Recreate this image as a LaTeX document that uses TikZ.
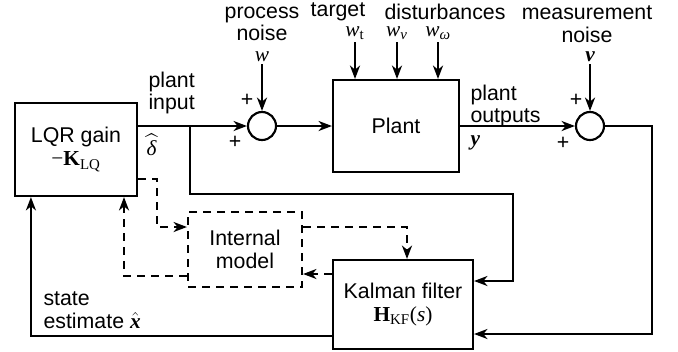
\documentclass[tikz,border=0pt]{standalone}
\usepackage{amsmath}
\usepackage{fontspec}
\setmainfont{Liberation Sans}
\newfontfamily\tms{Liberation Serif}
\usetikzlibrary{arrows.meta}
% serif symbols
\newcommand\mvar[1]{{\tms\itshape #1}}
\newcommand\mvec[1]{{\tms\bfseries\itshape #1}}
\newcommand\mmat[1]{{\tms\bfseries #1}}
\newcommand\msub[1]{\textsubscript{\tms #1}}

\begin{document}
\begin{tikzpicture}[x=0.75pt,y=-0.75pt,
  font=\fontsize{16}{17}\selectfont,
  line width=1.6pt,
  >={Stealth[length=10pt,width=7.5pt,inset=3pt]},
  blk/.style={draw,rectangle,align=center,inner sep=0pt},
  sumnode/.style={draw,circle,minimum size=21pt,inner sep=0pt},
  dsh/.style={dash pattern=on 6pt off 4.5pt},
  lbl/.style={align=center,inner sep=1pt}]
\useasboundingbox (0,0) rectangle (678,351);
%\draw[help lines] (0,0) grid[step=50] (678,351);
% blocks
\node[blk,minimum width=91.5pt,minimum height=69.75pt] (lqr) at (76,149.5) {LQR gain\\{\tms\textminus}\mmat{K}\msub{LQ}};
\node[blk,minimum width=94.5pt,minimum height=69pt] (plant) at (396,126) {Plant};
\node[blk,minimum width=105pt,minimum height=66.75pt] (kf) at (403,304.5) {Kalman filter\\\mmat{H}\msub{KF}{\tms(\textit{s})}};
\node[blk,dsh,minimum width=85.5pt,minimum height=56.25pt] (intm) at (245,249.5) {Internal\\model};
\node[sumnode] (sum1) at (262,126) {};
\node[sumnode] (sum2) at (590,126) {};

% inputs from above
\node[lbl] at (262,24) {process\\noise};
\node[lbl] (w) at (262,57) {\mvar{w}};
\node[lbl] at (338,12) {target};
\node[lbl] at (445,12) {disturbances};
\node[lbl] (wt) at (355,33) {\mvar{w}\msub{t}};
\node[lbl] (wv) at (397,33) {\mvar{w}\msub{\itshape v}};
\node[lbl] (ww) at (438,33) {\mvar{w}\msub{\itshape ω}};
\node[lbl] at (587,24) {measurement\\noise};
\node[lbl] (v) at (590,57) {\mvec{v}};
\draw[->] (w) -- (sum1);
\draw[->] (v) -- (sum2);
\foreach \d in {wt,wv,ww}
  \draw[->] (\d) -- (\d |- plant.north);

% signs
\node at (247,100) {+};
\node at (235,142) {+};
\node at (576,100) {+};
\node at (563,143) {+};

% forward path
\coordinate (tap) at (190,126);
\draw[->] (lqr.east |- sum1) -- (sum1);
\draw[->] (sum1) -- (plant);
\draw[->] (plant) -- (sum2);
\node[anchor=west,align=left] at (143,93) {plant\\input};
\node[anchor=west] at (141,145) {$\widehat{\text{\mvar{δ}}}$};
\node[anchor=west,align=left] at (465,106) {plant\\outputs};
\node[anchor=west] at (465,143) {\mvec{y}};

% feedback to the filter
\draw[->] (tap) -- (190,194) -- (513,194) |- (kf.east |- 0,281);
\draw[->] (sum2) -- (652,126) |- (kf.east |- 0,334);
\draw[->] (kf.west |- 0,336) -| ([xshift=12.75pt]lqr.south west);
\node[anchor=west,align=left] at (38,310) {state\\estimate $\hat{\text{\mvec{x}}}$};

% internal model paths
\draw[dsh,->] (lqr.east |- 0,179) -| (157,227) -- (intm.west |- 0,227);
\draw[dsh,->] (intm.east |- 0,227) -| ([xshift=3pt]kf.north);
\draw[dsh,->] (kf.west |- 0,274) -- (intm.east |- 0,274);
\draw[dsh,->] (intm.west |- 0,276) -| (lqr.south -| 124,0);
\end{tikzpicture}
\end{document}
